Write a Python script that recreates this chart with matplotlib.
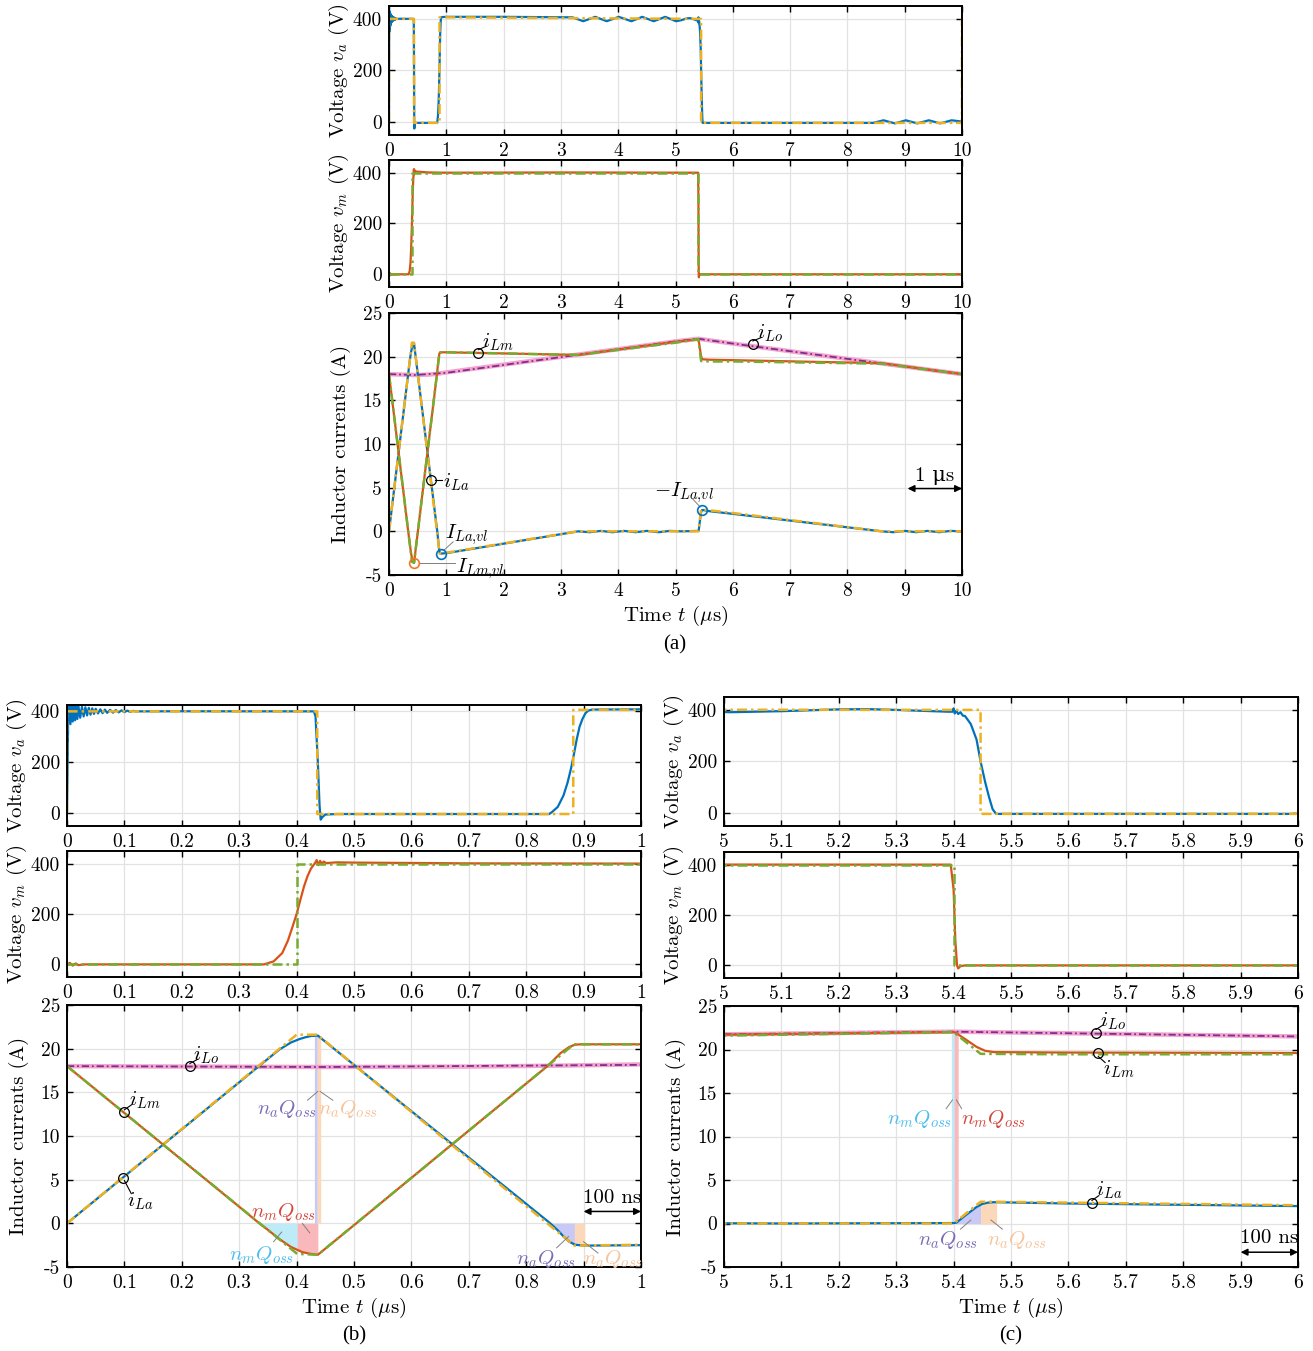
import numpy as np
import matplotlib
matplotlib.use('Agg')
import matplotlib.pyplot as plt

plt.rcParams['font.family'] = ['cmr10', 'DejaVu Serif']
plt.rcParams['mathtext.fontset'] = 'cm'
plt.rcParams['axes.unicode_minus'] = False
plt.rcParams['axes.formatter.use_mathtext'] = True

BLUE = '#0072BD'
ORANGE = '#D95319'
YELLOW = '#EDB120'
PURPLE = '#7E2F8E'
GREEN = '#77AC30'
PINK = '#F4A3CE'
DASHDOT = (0, (4, 1.6, 1, 1.6))

# ---- waveforms, time in us (one period 0..10 us) ----
# bridge voltage v_a, simulated
va_t = [0, 0.002, 0.004, 0.006, 0.008, 0.010, 0.012, 0.014, 0.016, 0.018, 0.020,
        0.023, 0.026, 0.029, 0.032, 0.035, 0.038, 0.041, 0.044, 0.047, 0.050,
        0.054, 0.058, 0.062, 0.066, 0.070, 0.075, 0.080, 0.085, 0.090, 0.095,
        0.100, 0.105, 0.110, 0.115, 0.120, 0.2, 0.43, 0.433, 0.437, 0.440,
        0.442, 0.445, 0.45, 0.47, 0.84, 0.845, 0.855, 0.865, 0.872, 0.878,
        0.883, 0.888, 0.893, 0.898, 0.903, 0.908, 0.915, 1.0, 2.0, 3.2,
        3.39, 3.6, 3.8, 4.01, 4.23, 4.42, 4.62, 4.82, 5.01, 5.1, 5.2, 5.25,
        5.3, 5.35, 5.39, 5.398, 5.40, 5.402, 5.405, 5.408, 5.412, 5.416,
        5.42, 5.43, 5.44, 5.447, 5.455, 5.462, 5.468, 5.474, 6.0, 8.45,
        8.63, 8.83, 9.02, 9.22, 9.42, 9.62, 9.82, 10.0]
va = [0, 360, 430, 350, 428, 360, 425, 365, 422, 370, 420,
      375, 418, 380, 416, 384, 414, 387, 412, 390, 410,
      392, 408, 393, 407, 394, 406, 395, 405, 396, 404,
      397, 403, 398, 402, 400, 400.5, 400, 380, 200, 30,
      -25, -15, -5, -3, -3, 5, 25, 70, 120, 175,
      230, 290, 340, 370, 392, 403, 407, 408, 408, 406,
      391, 408, 391, 408, 391, 408, 391, 408, 391, 395, 402, 403,
      400, 396, 393, 393, 406, 386, 397, 384, 391, 378,
      376, 345, 285, 200, 120, 60, 15, -3, -3, -3,
      7, -5, 7, -5, 7, -5, 7, 2]
# bridge voltage v_a, model
va_ideal_t = [0, 0, 0.436, 0.436, 0.882, 0.882, 1.0, 5.447, 5.447, 10, 10]
va_ideal = [0, 400, 400, -3, -3, 406, 406, 400, -3, -3, 400]

# bridge voltage v_m, simulated
vm_t = [0, 0.005, 0.01, 0.015, 0.02, 0.03, 0.343, 0.36, 0.375, 0.385, 0.393,
        0.40, 0.407, 0.413, 0.419, 0.425, 0.432, 0.435, 0.438, 0.441, 0.444,
        0.447, 0.452, 0.47, 0.5, 0.7, 1.0, 3.0, 5.395, 5.40, 5.403, 5.406,
        5.408, 5.412, 5.42, 10]
vm = [0, 6, -5, 4, -3, 0, 0, 12, 45, 95, 150,
      200, 260, 310, 350, 380, 402, 414, 394, 411, 397,
      408, 402, 405, 404, 401, 400, 401, 400, 300, 100, 0,
      -12, -3, 0, 0]
# bridge voltage v_m, model
vm_ideal_t = [0, 0.401, 0.401, 5.401, 5.401, 10]
vm_ideal = [0, 0, 400, 400, 0, 0]

# output inductor current i_Lo
ilo_t = [0, 0.2, 0.45, 0.7, 0.85, 1.0, 5.0, 5.4, 6.0, 10]
ilo = [18.0, 17.95, 17.9, 17.95, 18.05, 18.2, 21.75, 22.05, 21.5, 18.0]
ilo_ideal_t = [0, 0.45, 1.0, 5.0, 5.4, 6.0, 10]
ilo_ideal = [18.0, 17.9, 18.15, 21.75, 22.05, 21.5, 18.0]

# auxiliary inductor current i_La
ila_t = [0, 0.34, 0.37, 0.39, 0.405, 0.415, 0.425, 0.437, 0.45, 0.842, 0.855,
         0.865, 0.875, 0.885, 0.9, 1.0, 3.3, 3.5, 3.7, 3.9, 4.1, 4.3, 4.5,
         4.7, 4.9, 5.1, 5.4, 5.405, 5.42, 5.44, 5.45, 5.46, 5.47, 5.6, 6.0,
         8.6, 8.8, 9.0, 9.2, 9.4, 9.6, 9.8, 10]
ila = [0, 18.3, 19.9, 20.7, 21.1, 21.3, 21.45, 21.5, 20.8, 0, -0.8,
       -1.5, -2.1, -2.45, -2.55, -2.5, 0, -0.1, 0.05, -0.1, 0.05, -0.1, 0.05,
       -0.1, 0.05, 0.0, 0.05, 0.1, 0.9, 1.9, 2.25, 2.4, 2.45, 2.3, 2.0,
       0, -0.1, 0.05, -0.1, 0.05, -0.1, 0.05, 0]
ila_ideal_t = [0, 0.40, 0.436, 0.884, 1.0, 3.3, 5.40, 5.447, 5.47, 6.0, 8.6, 10]
ila_ideal = [0, 21.6, 21.6, -2.55, -2.45, 0, 0, 2.5, 2.5, 2.1, 0, 0]

# main inductor current i_Lm
ilm_t = [0, 0.30, 0.335, 0.35, 0.37, 0.39, 0.41, 0.425, 0.437, 0.45, 0.504,
         0.67, 0.837, 0.86, 0.875, 0.885, 0.895, 1.0, 3.3, 5.0, 5.4, 5.403,
         5.42, 5.44, 5.455, 5.47, 5.6, 6.0, 8.6, 10]
ilm = [18, 1.9, 0, -0.75, -1.8, -2.7, -3.3, -3.5, -3.6, -2.9, 0,
       9.0, 18.0, 19.5, 20.2, 20.45, 20.5, 20.5, 20.2, 21.7, 22.0, 21.95,
       21.2, 20.3, 19.85, 19.7, 19.65, 19.6, 19.25, 18.0]
ilm_ideal_t = [0, 0.401, 0.437, 0.883, 1.0, 3.3, 5.0, 5.40, 5.447, 5.6, 6.0, 8.6, 10]
ilm_ideal = [18, -3.5, -3.6, 20.5, 20.5, 20.2, 21.6, 22.0, 19.5, 19.45, 19.45, 19.2, 18.0]

W, H = 1313, 1351
fig = plt.figure(figsize=(W / 100, H / 100), dpi=100)


def add(x0, y0, x1, y1):
    return fig.add_axes([x0 / W, 1 - y1 / H, (x1 - x0) / W, (y1 - y0) / H])


def frame(ax, xlim, xticks, ylim, yticks, ylabel, xlabel=None):
    ax.set_xlim(xlim)
    ax.set_ylim(ylim)
    ax.set_xticks(xticks, [f'{v:g}' for v in xticks])
    ax.set_yticks(yticks, [f'{v:g}' for v in yticks])
    ax.grid(True, color='#E2E2E2', lw=0.9)
    ax.set_axisbelow(True)
    ax.tick_params(direction='in', top=True, right=True, length=4, width=1.0,
                   labelsize=14, pad=5)
    for s in ax.spines.values():
        s.set_linewidth(1.4)
    ax.set_ylabel(ylabel, fontsize=15)
    ax.yaxis.set_label_coords(-0.067, 0.5)
    if xlabel:
        ax.set_xlabel(xlabel, fontsize=15, labelpad=3)


def plot_va(ax):
    ax.plot(va_t, va, color=BLUE, lw=1.6)
    ax.plot(va_ideal_t, va_ideal, color=YELLOW, lw=1.8, ls=DASHDOT)


def plot_vm(ax):
    ax.plot(vm_t, vm, color=ORANGE, lw=1.6)
    ax.plot(vm_ideal_t, vm_ideal, color=GREEN, lw=1.8, ls=DASHDOT)


def plot_currents(ax):
    ax.plot(ilo_t, ilo, color=PINK, lw=3.2)
    ax.plot(ilo_ideal_t, ilo_ideal, color=PURPLE, lw=1.3, ls=DASHDOT)
    ax.plot(ila_t, ila, color=BLUE, lw=1.6)
    ax.plot(ila_ideal_t, ila_ideal, color=YELLOW, lw=1.8, ls=DASHDOT)
    ax.plot(ilm_t, ilm, color=ORANGE, lw=1.6)
    ax.plot(ilm_ideal_t, ilm_ideal, color=GREEN, lw=1.8, ls=DASHDOT)


def charge(ax, t, y, t0, t1, color):
    # shaded area between a current trace and zero over [t0, t1]
    t = np.asarray(t, float)
    y = np.asarray(y, float)
    inside = (t > t0) & (t < t1)
    tt = np.concatenate([[t0], t[inside], [t1]])
    yy = np.concatenate([[np.interp(t0, t, y)], y[inside], [np.interp(t1, t, y)]])
    ax.fill_between(tt, 0, yy, color=color, lw=0, zorder=1.5)


def tag(ax, curl, text_xy, label, leader=None, ha='left'):
    ax.plot(*curl, marker='o', ms=7, mfc='none', mec='k', mew=0.9, zorder=5)
    if leader:
        ax.plot(*zip(*leader), color='k', lw=0.8, zorder=5)
    ax.text(*text_xy, label, ha=ha, va='center', fontsize=15, zorder=6)


def qlabel(ax, xy, label, color, leader):
    ax.plot(*zip(*leader), color='#808080', lw=0.7, zorder=5)
    ax.text(*xy, label, ha='center', va='center', fontsize=15, color=color, zorder=6)


def span(ax, x0, x1, y, text, dy):
    ax.annotate('', xy=(x0, y), xytext=(x1, y),
                arrowprops=dict(arrowstyle='<|-|>', color='k', lw=1.1,
                                mutation_scale=10, shrinkA=0, shrinkB=0))
    ax.text((x0 + x1) / 2, y + dy, text, ha='center', va='center', fontsize=15,
            family=['cmr10', 'DejaVu Serif'])


CYAN_F = '#BDEBF8'
RED_F = '#F8B8BC'
LAV_F = '#C9C9F6'
PEACH_F = '#FCD8BA'
CYAN_T = '#4DBEEE'
RED_T = '#D4463C'
LAV_T = '#7B6BB8'
PEACH_T = '#F6C39A'

va_lab = r'Voltage $v_a$ (V)'
vm_lab = r'Voltage $v_m$ (V)'
i_lab = 'Inductor currents (A)'
t_lab = r'Time $t$ ($\mu$s)'
v_ticks = [0, 200, 400]
i_ticks = [-5, 0, 5, 10, 15, 20, 25]

# ---- (a) full period ----
a_ticks = list(range(11))
a1 = add(389, 6, 962, 135)
plot_va(a1)
frame(a1, (0, 10), a_ticks, (-50, 450), v_ticks, va_lab)
a2 = add(389, 160, 962, 287)
plot_vm(a2)
frame(a2, (0, 10), a_ticks, (-50, 450), v_ticks, vm_lab)
a3 = add(389, 313, 962, 575)
plot_currents(a3)
frame(a3, (0, 10), a_ticks, (-5, 25), i_ticks, i_lab, t_lab)

ila_arr = np.array(ila)
ilm_arr = np.array(ilm)
ila_t_arr = np.array(ila_t)
k_la = np.argmin(np.where(ila_t_arr < 2, ila_arr, np.inf))
k_lm = np.argmin(ilm_arr)
k_la2 = np.argmax(np.where(ila_t_arr > 5, ila_arr, -np.inf))
a3.plot(ila_t[k_la], ila[k_la], 'o', ms=7, mfc='none', mec=BLUE, mew=1.2, zorder=6)
a3.plot(ilm_t[k_lm], ilm[k_lm], 'o', ms=7, mfc='none', mec='#F07820', mew=1.2, zorder=6)
a3.plot(ila_t[k_la2], ila[k_la2], 'o', ms=7, mfc='none', mec=BLUE, mew=1.2, zorder=6)
a3.plot([ila_t[k_la] + 0.06, 1.12], [ila[k_la] + 0.4, -1.2], color='#808080', lw=0.7)
a3.text(0.98, -0.4, r'$I_{La{,}vl}$', fontsize=15, va='center')
a3.plot([ilm_t[k_lm] + 0.1, 1.15], [ilm[k_lm]] * 2, color='#808080', lw=0.7)
a3.text(1.17, -4.3, r'$I_{Lm{,}vl}$', fontsize=15, va='center')
a3.plot([ila_t[k_la2] - 0.04, 5.3], [ila[k_la2] + 0.35, 3.7], color='#808080', lw=0.7)
a3.text(5.15, 4.45, r'$-I_{La{,}vl}$', fontsize=15, va='center', ha='center')
tag(a3, (1.56, 20.45), (1.62, 21.7), r'$i_{Lm}$', leader=[(1.56, 20.8), (1.7, 21.2)])
tag(a3, (6.35, 21.4), (6.42, 22.7), r'$i_{Lo}$', leader=[(6.35, 21.8), (6.5, 22.2)])
tag(a3, (0.74, 5.9), (0.95, 5.6), r'$i_{La}$', leader=[(0.8, 5.9), (0.93, 5.9)])
span(a3, 9.05, 10, 4.9, '1 μs', 1.45)

fig.text(675 / W, 1 - 645 / H, '(a)', ha='center', va='center',
         family='Liberation Serif', fontsize=15)

# ---- (b) zoom on 0..1 us ----
b_ticks = [round(0.1 * k, 1) for k in range(11)]
b1 = add(67, 705, 641, 826)
plot_va(b1)
frame(b1, (0, 1), b_ticks, (-50, 425), v_ticks, va_lab)
b2 = add(67, 851, 641, 977)
plot_vm(b2)
frame(b2, (0, 1), b_ticks, (-50, 450), v_ticks, vm_lab)
b3 = add(67, 1005, 641, 1267)
charge(b3, ilm_t, ilm, 0.335, 0.401, CYAN_F)
charge(b3, ilm_t, ilm, 0.401, 0.437, RED_F)
charge(b3, ila_t, ila, 0.431, 0.436, LAV_F)
charge(b3, ila_t, ila, 0.436, 0.442, PEACH_F)
charge(b3, ila_t, ila, 0.842, 0.884, LAV_F)
charge(b3, ila_t, ila, 0.884, 0.902, PEACH_F)
plot_currents(b3)
frame(b3, (0, 1), b_ticks, (-5, 25), i_ticks, i_lab, t_lab)
qlabel(b3, (0.383, 13.1), r'$n_aQ_{oss}$', LAV_T, [(0.419, 14.1), (0.437, 15.1)])
qlabel(b3, (0.489, 13.1), r'$n_aQ_{oss}$', PEACH_T, [(0.463, 14.1), (0.441, 15.1)])
qlabel(b3, (0.377, 1.35), r'$n_mQ_{oss}$', RED_T, [(0.41, 0.0), (0.423, -1.1)])
qlabel(b3, (0.339, -3.6), r'$n_mQ_{oss}$', CYAN_T, [(0.36, -2.1), (0.374, -1.0)])
qlabel(b3, (0.835, -4.1), r'$n_aQ_{oss}$', LAV_T, [(0.853, -2.8), (0.874, -1.5)])
qlabel(b3, (0.951, -4.1), r'$n_aQ_{oss}$', PEACH_T, [(0.925, -3.4), (0.9, -2.1)])
tag(b3, (0.214, 18.0), (0.22, 19.3), r'$i_{Lo}$', leader=[(0.214, 18.3), (0.228, 18.8)])
tag(b3, (0.1, 12.7), (0.108, 14.1), r'$i_{Lm}$', leader=[(0.1, 13.0), (0.113, 13.6)])
tag(b3, (0.098, 5.2), (0.105, 2.5), r'$i_{La}$', leader=[(0.1, 4.9), (0.112, 3.4)])
span(b3, 0.9, 1.0, 1.36, '100 ns', 1.55)

fig.text(354 / W, 1 - 1336 / H, '(b)', ha='center', va='center',
         family='Liberation Serif', fontsize=15)

# ---- (c) zoom on 5..6 us ----
c_ticks = [round(5 + 0.1 * k, 1) for k in range(11)]
c1 = add(724, 697, 1298, 826)
plot_va(c1)
frame(c1, (5, 6), c_ticks, (-50, 450), v_ticks, va_lab)
c2 = add(724, 852, 1298, 978)
plot_vm(c2)
frame(c2, (5, 6), c_ticks, (-50, 450), v_ticks, vm_lab)
c3 = add(724, 1006, 1298, 1267)
charge(c3, ilm_t, ilm, 5.396, 5.401, CYAN_F)
charge(c3, ilm_t, ilm, 5.401, 5.408, RED_F)
charge(c3, ila_t, ila, 5.40, 5.447, LAV_F)
charge(c3, ila_t, ila, 5.447, 5.475, PEACH_F)
plot_currents(c3)
frame(c3, (5, 6), c_ticks, (-5, 25), i_ticks, i_lab, t_lab)
qlabel(c3, (5.34, 12.0), r'$n_mQ_{oss}$', CYAN_T, [(5.387, 13.2), (5.398, 14.2)])
qlabel(c3, (5.47, 12.0), r'$n_mQ_{oss}$', RED_T, [(5.414, 13.2), (5.405, 14.2)])
qlabel(c3, (5.39, -1.9), r'$n_aQ_{oss}$', LAV_T, [(5.412, -0.65), (5.43, 0.4)])
qlabel(c3, (5.51, -1.9), r'$n_aQ_{oss}$', PEACH_T, [(5.485, -0.65), (5.465, 0.4)])
tag(c3, (5.648, 21.95), (5.655, 23.2), r'$i_{Lo}$', leader=[(5.648, 22.3), (5.66, 22.8)])
tag(c3, (5.652, 19.6), (5.66, 17.7), r'$i_{Lm}$', leader=[(5.652, 19.2), (5.664, 18.5)])
tag(c3, (5.641, 2.3), (5.648, 3.8), r'$i_{La}$', leader=[(5.641, 2.65), (5.653, 3.2)])
span(c3, 5.9, 6.0, -3.3, '100 ns', 1.6)

fig.text(1011 / W, 1 - 1336 / H, '(c)', ha='center', va='center',
         family='Liberation Serif', fontsize=15)

fig.savefig('out.png', dpi=100)
